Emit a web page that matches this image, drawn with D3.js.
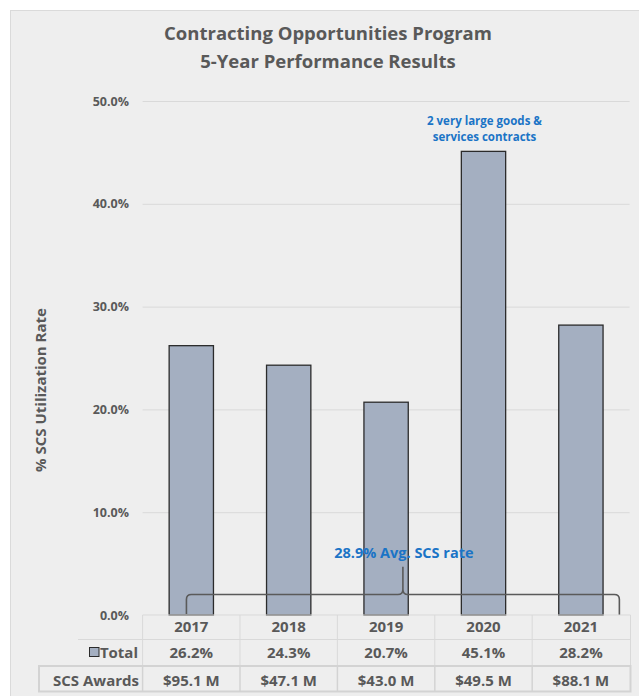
<!DOCTYPE html>
<html>
<head>
<meta charset="utf-8">
<script src="https://cdn.jsdelivr.net/npm/d3@7"></script>
<style>
  body { margin: 0; background: #fff; }
  svg text { font-family: "Open Sans", "Noto Sans", sans-serif; font-weight: bold; }
</style>
</head>
<body>
<div id="chart"></div>
<script>
const years = ['2017', '2018', '2019', '2020', '2021'];
const rates = [26.2, 24.3, 20.7, 45.1, 28.2];
const awards = [95.1, 47.1, 43.0, 49.5, 88.1];
const yTicks = [0, 10, 20, 30, 40, 50];
const avgRate = 28.9;
const titleLines = ['Contracting Opportunities Program', '5-Year Performance Results'];
const noteLines = ['2 very large goods &', 'services contracts'];

const W = 639, H = 696;
const txt = '#595959', blue = '#1b74c6', barFill = '#a4afc1', gridCol = '#d9d9d9';

const svg = d3.select('#chart').append('svg').attr('width', W).attr('height', H);

// panel
svg.append('rect').attr('x', 10.5).attr('y', 10.5).attr('width', W).attr('height', H)
  .attr('fill', '#eeeeee').attr('stroke', '#dadada');

svg.selectAll('.title').data(titleLines).enter().append('text')
  .attr('x', 328).attr('y', (d, i) => 40 + i * 28)
  .attr('text-anchor', 'middle').style('font-size', '18.5px').style('fill', txt)
  .text(d => d);

const x = d3.scaleBand().domain(years).range([142.6, 629.6]);
const y = d3.scaleLinear().domain([0, 50]).range([615, 101]);
const bw = x.bandwidth() * 0.455;

// gridlines
svg.append('g').attr('transform', 'translate(142.6,0)')
  .call(d3.axisLeft(y).tickValues(yTicks.slice(1)).tickSize(-(629.6 - 142.6)).tickFormat(''))
  .call(g => g.select('.domain').remove())
  .selectAll('line').attr('stroke', gridCol);

// tick labels
svg.selectAll('.ytick').data(yTicks).enter().append('text')
  .attr('x', 129).attr('y', d => y(d) + 4.5).attr('text-anchor', 'end')
  .style('font-size', '12.5px').style('fill', txt)
  .text(d => d.toFixed(1) + '%');

svg.append('text').attr('transform', 'translate(46,390) rotate(-90)')
  .attr('text-anchor', 'middle').style('font-size', '15px').style('fill', txt)
  .text('% SCS Utilization Rate');

// bars
svg.selectAll('.bar').data(years).enter().append('rect')
  .attr('x', d => x(d) + (x.bandwidth() - bw) / 2)
  .attr('y', (d, i) => y(rates[i]))
  .attr('width', bw).attr('height', (d, i) => y(0) - y(rates[i]))
  .attr('fill', barFill).attr('stroke', '#2b2b2b').attr('stroke-width', 1.3);

// note above 2020
svg.selectAll('.note').data(noteLines).enter().append('text')
  .attr('x', x('2020') + x.bandwidth() / 2 + 1).attr('y', (d, i) => y(45.1) - 26 + i * 16)
  .attr('text-anchor', 'middle').style('font-size', '11.5px').style('fill', blue)
  .text(d => d);

// brace for the average
const bl = x('2017') + x.bandwidth() * 0.45, br = x('2021') + x.bandwidth() * 0.895;
const bm = (bl + br) / 2, by = y(2), r = 5;
const brace = d3.path();
brace.moveTo(bl, y(0));
brace.lineTo(bl, by + r);
brace.quadraticCurveTo(bl, by, bl + r, by);
brace.lineTo(bm - r, by);
brace.quadraticCurveTo(bm, by, bm, by - r);
brace.lineTo(bm, y(4.7));
brace.moveTo(bm, by - r);
brace.quadraticCurveTo(bm, by, bm + r, by);
brace.lineTo(br - r, by);
brace.quadraticCurveTo(br, by, br, by + r);
brace.lineTo(br, y(0));
svg.append('path').attr('d', brace.toString()).attr('fill', 'none')
  .attr('stroke', '#5a5a5a').attr('stroke-width', 1.6);

svg.append('text').attr('x', bm + 1).attr('y', y(6) + 5).attr('text-anchor', 'middle')
  .style('font-size', '14.5px').style('fill', blue)
  .text(avgRate.toFixed(1) + '% Avg. SCS rate');

// data table
const tb = svg.append('g');
const r1 = 615, r2 = 639.5, r3 = 665, r4 = 691.5;
tb.append('line').attr('x1', 142.6).attr('x2', 630.5).attr('y1', r1).attr('y2', r1).attr('stroke', gridCol);
tb.append('line').attr('x1', 78).attr('x2', 630.5).attr('y1', r2).attr('y2', r2).attr('stroke', gridCol);
tb.selectAll('.vl').data(years.concat(['end'])).enter().append('line')
  .attr('x1', d => d === 'end' ? 630.5 : x(d)).attr('x2', d => d === 'end' ? 630.5 : x(d))
  .attr('y1', r1).attr('y2', r3).attr('stroke', gridCol);
tb.append('rect').attr('x', 39).attr('y', r3 + 1).attr('width', 630.5 - 39).attr('height', r4 - r3 - 1)
  .attr('fill', 'none').attr('stroke', '#d3d3d3').attr('stroke-width', 2);
tb.selectAll('.vl2').data(years).enter().append('line')
  .attr('x1', d => x(d)).attr('x2', d => x(d))
  .attr('y1', r3 + 1).attr('y2', r4).attr('stroke', '#d3d3d3').attr('stroke-width', 1.5);

const cx = d => x(d) + x.bandwidth() / 2;
tb.selectAll('.yr').data(years).enter().append('text')
  .attr('x', cx).attr('y', 632).attr('text-anchor', 'middle')
  .style('font-size', '15px').style('fill', txt).text(d => d);
tb.selectAll('.rt').data(years).enter().append('text')
  .attr('x', cx).attr('y', 658).attr('text-anchor', 'middle')
  .style('font-size', '15px').style('fill', txt).text((d, i) => rates[i].toFixed(1) + '%');
tb.selectAll('.aw').data(years).enter().append('text')
  .attr('x', cx).attr('y', 685.5).attr('text-anchor', 'middle')
  .style('font-size', '15px').style('fill', txt).text((d, i) => '$' + awards[i].toFixed(1) + ' M');

tb.append('rect').attr('x', 89.5).attr('y', 647.5).attr('width', 9.5).attr('height', 9)
  .attr('fill', barFill).attr('stroke', '#2b2b2b').attr('stroke-width', 1);
tb.append('text').attr('x', 138).attr('y', 658).attr('text-anchor', 'end')
  .style('font-size', '15px').style('fill', txt).text('Total');
tb.append('text').attr('x', 139).attr('y', 685.5).attr('text-anchor', 'end')
  .style('font-size', '15px').style('fill', txt).text('SCS Awards');
</script>
</body>
</html>
